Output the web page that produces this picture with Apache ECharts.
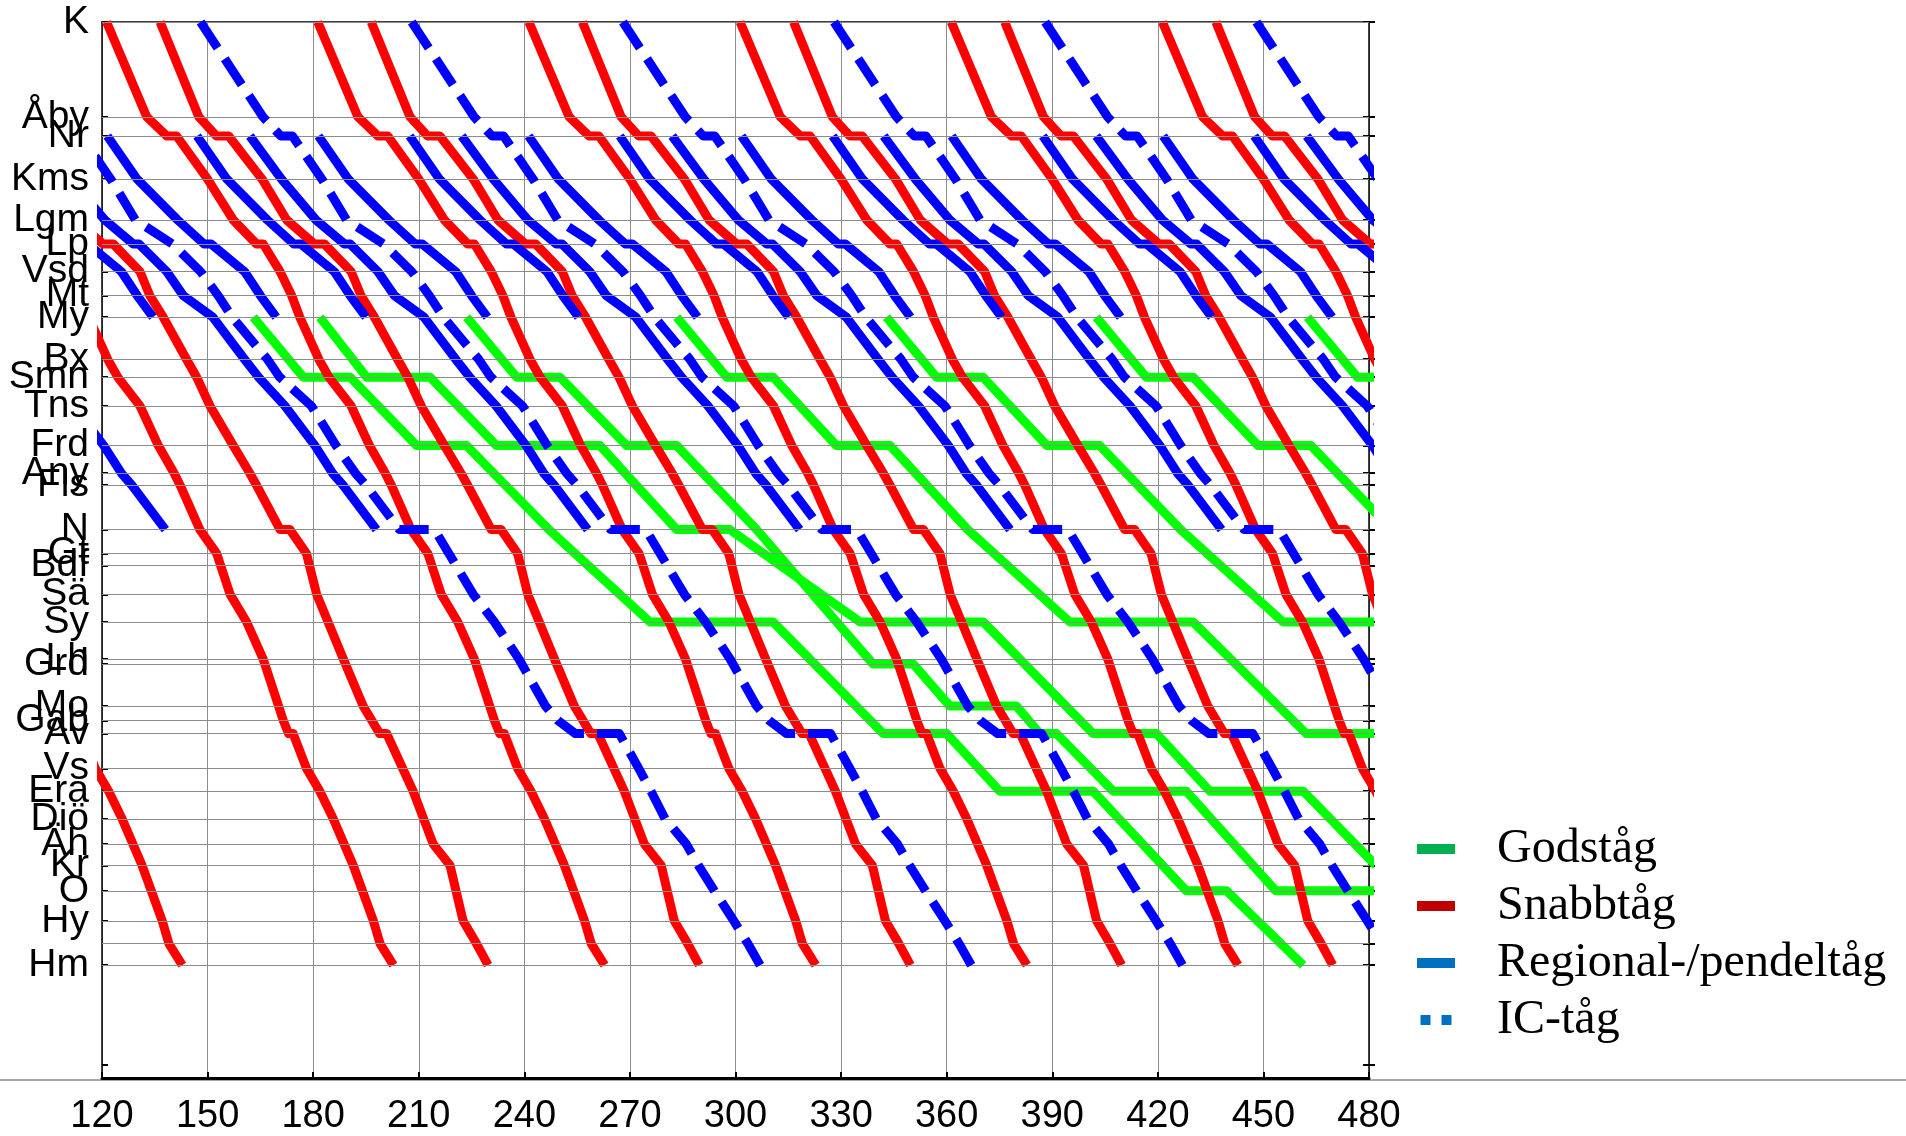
<!DOCTYPE html>
<html><head><meta charset="utf-8">
<script src="https://cdn.jsdelivr.net/npm/echarts@6/dist/echarts.min.js"></script>
<style>html,body{margin:0;padding:0;background:#fff}#c{width:1906px;height:1136px}</style>
</head><body><div id="c"></div>
<script>
// ---------- stations (distance along the line, km from K) ----------
const stations = ['K','Åby','Nr','Kms','Lgm','Lp','Vsd','Mt','My','Bx','Smn','Tns','Frd','Any','Fls','N','Gt','Bdf','Sä','Sy','Lh','Grd','Mo','Gab','Av','Vs','Era','Diö','Äh','Kr','O','Hy','Bl','Hm'];
const stationKm = [0,39.5,47.5,65.5,82.5,92.5,104,114,123,140.5,148,160,176.5,188,193,211.5,221.5,226.5,238.5,250,265.5,267.5,285,291,296.5,311,320.5,332,342.5,351.5,362,374.5,384,393];
const extraTickKm = 434.5;
const timeTicks = [120,150,180,210,240,270,300,330,360,390,420,450,480];

// ---------- Snabbtåg: running profiles (minutes after K) + K departures ----------
const snabbA_profile = [['K',0],['Åby',11.4],['Nr',17.1],['Nr',19.9],['Kms',28.7],['Lgm',36],['Lp',42.6],['Lp',44.5],['Vsd',49.3],['Mt',52.6],['My',54.9],['Bx',60.3],['Smn',63.2],['Tns',69.5],['Frd',74.7],['Any',79.2],['Fls',80.9],['N',86.5],['Gt',91.3],['Sä',95.1],['Sy',99.8],['Lh',104.5],['Gab',110.2],['Av',111.7],['Av',113],['Vs',116.8],['Era',120.6],['Diö',124.4],['Kr',130.1],['Hy',135.8],['Bl',137.7],['Hm',141.5]];
const snabbA_departures = [1.3,61.3,121.3,181.3,241.3,301.3,361.3,421.3];
const snabbB_profile = [['K',0],['Åby',11],['Nr',16],['Nr',19.5],['Kms',29],['Lgm',36],['Lp',43.8],['Lp',46.7],['Vsd',54.3],['Mt',57.1],['My',60.9],['Bx',67.5],['Smn',70.4],['Tns',74.2],['Frd',80.8],['Any',85.5],['Fls',87.4],['N',94.1],['N',96.9],['Gt',101.6],['Sä',104.5],['Lh',112.1],['Mo',117.7],['Av',122.4],['Av',124.4],['Era',131.9],['Äh',137.6],['Kr',142.4],['Hy',146.1],['Bl',149.9],['Hm',153.2]];
const snabbB_departures = [76.5,136.5,196.5,256.5,316.5,376.5,436.5];

// ---------- Regional-/pendeltåg: profiles (minutes after Nr) + Nr departures ----------
const regMy_profile = [['Nr',0],['Kms',8.5],['Lgm',20],['Lp',27.5],['Lp',29.5],['Vsd',39],['Mt',43.5],['My',48]];
const regMy_departures = [86.5,121.5,147,181.5,207.4,241.2,267.1,301.7,327.6,361.4,387.3,421.5,447.4];
const regN_profile = [['Nr',0],['Kms',9],['Lgm',18.8],['Lp',26.9],['Lp',28.5],['Vsd',36.4],['Mt',41.1],['My',49.5],['Bx',58.5],['Smn',62.5],['Tns',70],['Frd',78.5],['Any',83.5],['Fls',86.5],['N',96]];
const regN_departures = [42,102,162,222.2,282,342.1,402.5,462.3];

// ---------- IC-tåg: profile (minutes after K) + K departures ----------
const ic_profile = [['K',0],['Åby',17.7],['Nr',22.8],['Nr',26.1],['Kms',34.5],['Lgm',41.5],['Lp',52],['Vsd',60],['Mt',65],['My',69],['Bx',79],['Smn',82.5],['Tns',91.5],['Frd',98.5],['Any',104],['Fls',107],['N',116.5],['N',126.5],['Sä',137.5],['Sy',143.5],['Lh',150.5],['Mo',158],['Gab',161.5],['Av',166.5],['Av',179],['Vs',184.5],['Era',188],['Diö',192],['Äh',198],['Kr',201.5],['O',206],['Hy',211.5],['Bl',215.5],['Hm',219]];
const ic_departures = [88,148,208,268,328,388,448];

// ---------- Godståg: each train (station, minute) ----------
const gods1 = [['My',163],['Smn',177.2],['Smn',190.5],['Frd',209.4],['Frd',223.6],['N',247],['Sy',275.7],['Sy',310.7],['Av',342],['Av',360],['Era',375.1],['Era',401.6],['O',428.1],['O',439.5],['Hm',461.3]];
const gods2 = [['My',181.9],['Smn',195.2],['Smn',213.2],['Frd',232.1],['Frd',261.5],['N',283.3],['N',298.4],['Sy',335.4],['Sy',370.4],['Av',401.6],['Av',419.6],['Era',434.8],['Era',461.3],['Kr',482]];
const gods3 = [['My',223.6],['Smn',237.8],['Smn',250.1],['Frd',269.1],['Frd',283.3],['N',306],['Grd',339.1],['Grd',350.5],['Mo',360.9],['Mo',379.8],['Av',386.5],['Av',391.2],['Era',407.3],['Era',428.1],['O',453.5],['O',490]];
const gods4 = [['My',283.3],['Smn',297.5],['Smn',310.7],['Frd',328.7],['Frd',343.9],['N',366],['Sy',395],['Sy',430],['Av',462.2],['Av',490]];
const gods5 = [['My',342.9],['Smn',357.1],['Smn',370.3],['Frd',388.5],['Frd',403.5],['N',426.5],['Sy',455.6],['Sy',490]];
const gods6 = [['My',402.5],['Smn',416.7],['Smn',430],['Frd',448.5],['Frd',463.5],['N',486.5]];
const gods7 = [['My',462.5],['Smn',476.7],['Smn',490]];

// ---------- build ----------
const kmOf = {};
stations.forEach((s,i)=>{kmOf[s]=stationKm[i];});
function pathOf(profile, offset){ return profile.map(p => [p[1]+offset, kmOf[p[0]]]); }

const typeStyle = {
  'Godståg': {color:'#00ff00', type:'solid', z:2},
  'Snabbtåg': {color:'#ff0000', type:'solid', z:3},
  'Regional-/pendeltåg': {color:'#0000ff', type:'solid', z:4},
  'IC-tåg': {color:'#0000ff', type:[31,13], z:5}
};
function trainSeries(name, data){
  const st = typeStyle[name];
  return {type:'line', name, data, showSymbol:false, symbol:'none', silent:true, clip:true,
    animation:false, z:st.z,
    lineStyle:{color:st.color, width:9, type:st.type, cap:'butt', join:'round'},
    itemStyle:{color:st.color}};
}

const series = [];
series.push({type:'line', name:'_grid', data:[], silent:true, animation:false, z:1,
  markLine:{silent:true, symbol:['none','none'], animation:false, label:{show:false},
    lineStyle:{color:'#8c8c8c', width:1, type:'solid'},
    data: stationKm.map(v=>({yAxis:v}))}});
[gods1,gods2,gods3,gods4,gods5,gods6,gods7].forEach(g=>series.push(trainSeries('Godståg', pathOf(g,0))));
snabbA_departures.forEach(d=>series.push(trainSeries('Snabbtåg', pathOf(snabbA_profile,d))));
snabbB_departures.forEach(d=>series.push(trainSeries('Snabbtåg', pathOf(snabbB_profile,d))));
regMy_departures.forEach(d=>series.push(trainSeries('Regional-/pendeltåg', pathOf(regMy_profile,d))));
regN_departures.forEach(d=>series.push(trainSeries('Regional-/pendeltåg', pathOf(regN_profile,d))));
ic_departures.forEach(d=>series.push(trainSeries('IC-tåg', pathOf(ic_profile,d))));

const tickVals = stationKm.concat([extraTickKm]);
const yBase = {type:'value', inverse:true, min:0, max:440, splitLine:{show:false}};
const chart = echarts.init(document.getElementById('c'));
chart.setOption({
  animation:false,
  backgroundColor:'#ffffff',
  grid:{left:102, right:537, top:22, bottom:56, containLabel:false},
  legend:{orient:'vertical', left:1412, top:820, itemWidth:38, itemHeight:10, itemGap:9,
    selectedMode:false, icon:'rect',
    textStyle:{fontFamily:'Liberation Serif', fontSize:48, lineHeight:48, color:'#000', padding:[0,0,0,37]},
    data:[
      {name:'Godståg', icon:'rect', itemStyle:{color:'#00b050'}},
      {name:'Snabbtåg', icon:'rect', itemStyle:{color:'#c00000'}},
      {name:'Regional-/pendeltåg', icon:'rect', itemStyle:{color:'#0070c0'}},
      {name:'IC-tåg', icon:'path://M0,0h10v10h-10zM21,0h10v10h-10z', itemStyle:{color:'#0070c0'}}
    ]},
  xAxis:[
    {type:'value', min:120, max:480, interval:30, position:'bottom',
      axisLine:{show:true, onZero:false, lineStyle:{color:'#000', width:3}},
      axisTick:{show:true, inside:true, length:6, lineStyle:{color:'#000', width:2}},
      axisLabel:{fontFamily:'Liberation Sans', fontSize:38, color:'#000', margin:20,
        showMinLabel:true, showMaxLabel:true, customValues: timeTicks},
      splitLine:{show:true, lineStyle:{color:'#8c8c8c', width:1}}},
    {type:'value', min:120, max:480, position:'top',
      axisLine:{show:true, onZero:false, lineStyle:{color:'#000', width:1.5}},
      axisTick:{show:false}, axisLabel:{show:false}, splitLine:{show:false}}
  ],
  yAxis:[
    Object.assign({}, yBase, {position:'left',
      axisLine:{show:true, onZero:false, lineStyle:{color:'#000', width:1.5}},
      axisTick:{show:true, inside:true, length:6, customValues:tickVals, lineStyle:{color:'#000', width:2}},
      axisLabel:{show:true, customValues:stationKm, showMinLabel:true, showMaxLabel:true, hideOverlap:false,
        margin:13, fontFamily:'Liberation Sans', fontSize:39, color:'#000',
        formatter:function(v){ for(let i=0;i<stationKm.length;i++){ if(Math.abs(stationKm[i]-v)<0.01) return stations[i]; } return ''; }}}),
    Object.assign({}, yBase, {position:'right',
      axisLine:{show:true, onZero:false, lineStyle:{color:'#000', width:1.5}},
      axisTick:{show:true, inside:false, length:6, customValues:tickVals, lineStyle:{color:'#000', width:2}},
      axisLabel:{show:false}}),
    Object.assign({}, yBase, {position:'right',
      axisLine:{show:false},
      axisTick:{show:true, inside:true, length:6, customValues:tickVals, lineStyle:{color:'#000', width:2}},
      axisLabel:{show:false}})
  ],
  graphic:[{type:'line', z:-10, silent:true, shape:{x1:0, y1:1080, x2:1906, y2:1080}, style:{stroke:'#a6a6a6', lineWidth:2}}],
  series
});
</script></body></html>
